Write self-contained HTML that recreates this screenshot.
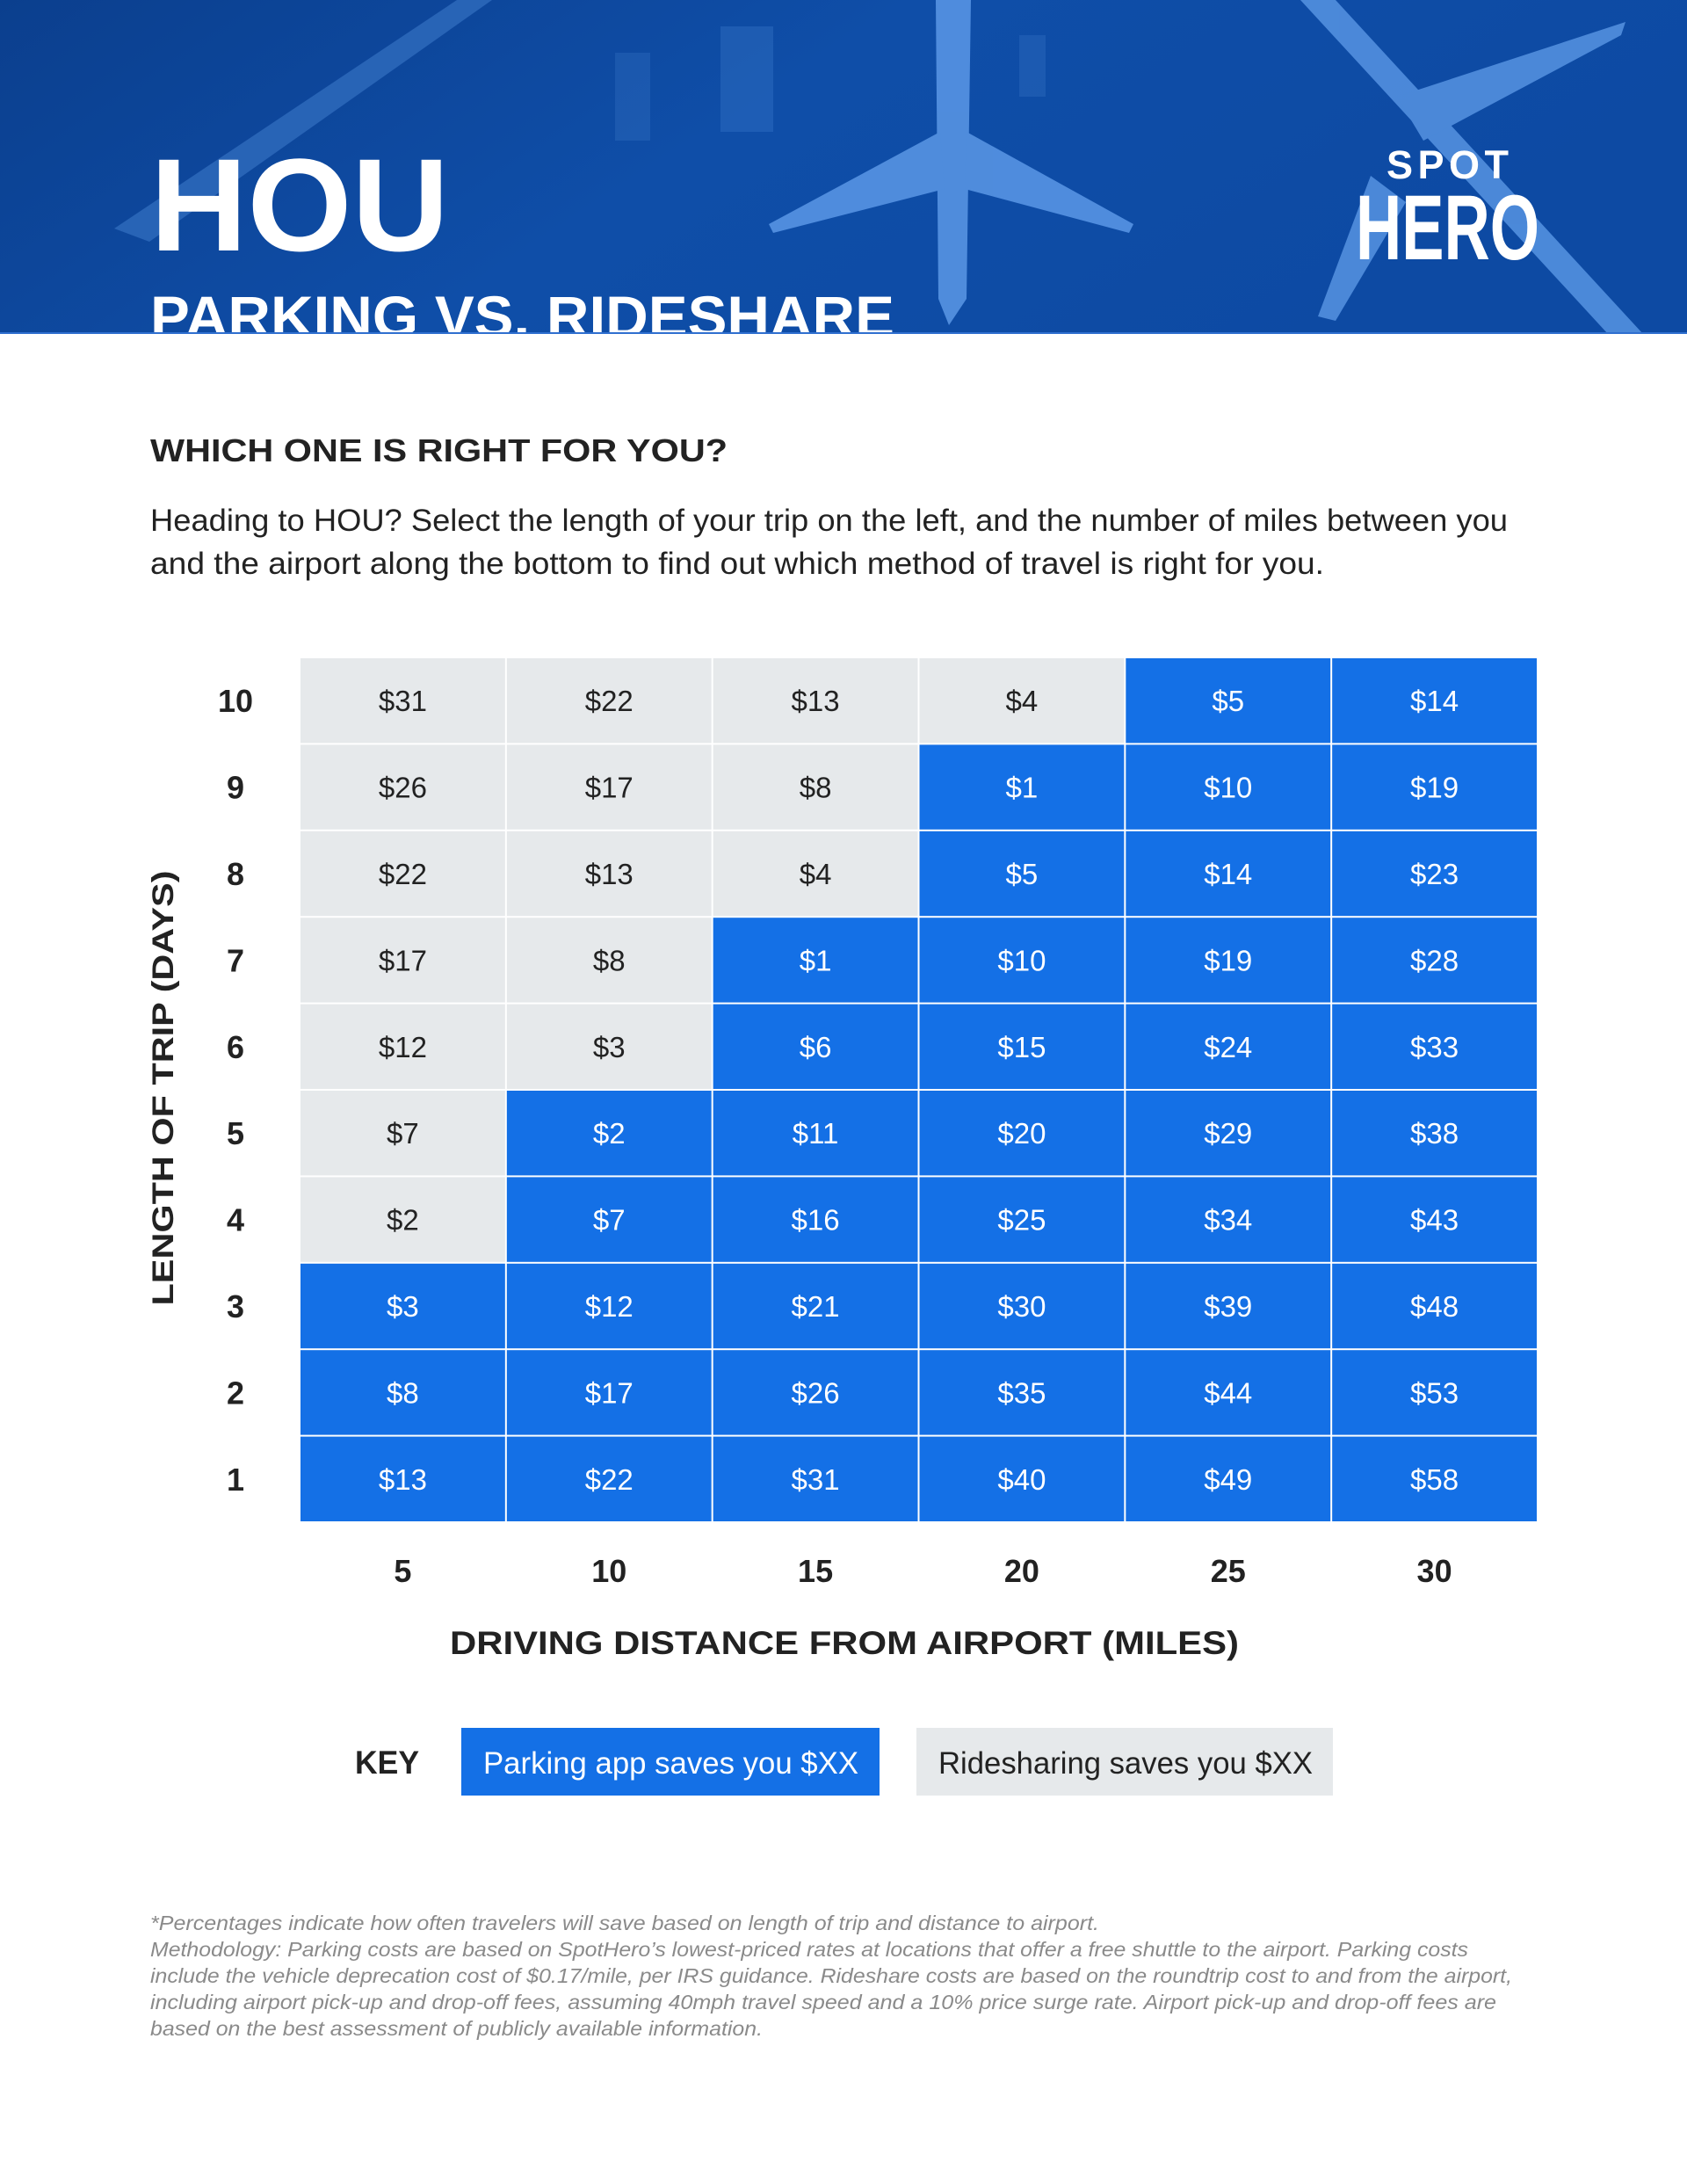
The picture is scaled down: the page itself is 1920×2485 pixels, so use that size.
<!DOCTYPE html>
<html><head><meta charset="utf-8"><title>HOU Parking vs Rideshare</title>
<style>
html,body{margin:0;padding:0;background:#fff;}
svg{display:block;font-family:"Liberation Sans",sans-serif;}
</style></head>
<body>
<svg id="page" width="1920" height="2485" viewBox="0 0 1920 2485" xmlns="http://www.w3.org/2000/svg">
<defs>
<linearGradient id="hdr" x1="0" y1="0" x2="1" y2="0.3">
<stop offset="0" stop-color="#0b3f8e"/><stop offset="0.5" stop-color="#0f4ea8"/><stop offset="1" stop-color="#0d4aa3"/>
</linearGradient>
</defs>
<g>
<rect x="0" y="0" width="1920" height="380" fill="url(#hdr)"/>
<g opacity="0.35" fill="#5c9ae8">
<polygon points="130,260 520,0 560,0 170,275"/>
<rect x="820" y="30" width="60" height="120" opacity="0.6"/>
<rect x="700" y="60" width="40" height="100" opacity="0.5"/>
<rect x="1160" y="40" width="30" height="70" opacity="0.5"/>
</g>
<g fill="#5b98e6" opacity="0.85">
<path d="M1065,0 L1105,0 L1100,340 L1080,370 L1068,340 Z"/>
<path d="M1070,150 L875,255 L880,265 L1075,215 Z"/>
<path d="M1100,150 L1290,255 L1285,265 L1098,215 Z"/>
</g>
<g fill="#5b98e6" opacity="0.8">
<path d="M1480,0 L1520,0 L1870,380 L1830,380 Z"/>
<path d="M1590,110 L1850,25 L1845,40 L1620,160 Z"/>
<path d="M1560,200 L1500,360 L1520,365 L1600,230 Z"/>
</g>
<text x="171" y="285" font-size="150" font-weight="bold" fill="#fff" textLength="340" lengthAdjust="spacingAndGlyphs">HOU</text>
<text x="171" y="383" font-size="66" font-weight="bold" fill="#fff" textLength="847" lengthAdjust="spacingAndGlyphs">PARKING VS. RIDESHARE</text>
<text x="1578" y="203" font-size="45" font-weight="bold" fill="#fff" textLength="139" lengthAdjust="spacing">SPOT</text>
<text x="1543" y="295" font-size="105" font-weight="bold" fill="#fff" textLength="209" lengthAdjust="spacingAndGlyphs">HERO</text>
</g>
<rect x="0" y="378" width="1920" height="2" fill="#2f6fcf"/>
<text x="171" y="525" font-size="36" font-weight="bold" fill="#222" textLength="657" lengthAdjust="spacingAndGlyphs">WHICH ONE IS RIGHT FOR YOU?</text>
<text x="171" y="604" font-size="35" fill="#222" textLength="1545" lengthAdjust="spacingAndGlyphs">Heading to HOU? Select the length of your trip on the left, and the number of miles between you</text>
<text x="171" y="653" font-size="35" fill="#222" textLength="1336" lengthAdjust="spacingAndGlyphs">and the airport along the bottom to find out which method of travel is right for you.</text>
<g id="chart"></g>
<text transform="translate(197,1238) rotate(-90)" text-anchor="middle" font-size="34" font-weight="bold" fill="#222" textLength="495" lengthAdjust="spacingAndGlyphs">LENGTH OF TRIP (DAYS)</text>
<text x="961" y="1882" text-anchor="middle" font-size="37" font-weight="bold" fill="#222" textLength="898" lengthAdjust="spacingAndGlyphs">DRIVING DISTANCE FROM AIRPORT (MILES)</text>
<g>
<text x="404" y="2018" font-size="37" font-weight="bold" fill="#222" textLength="73" lengthAdjust="spacingAndGlyphs">KEY</text>
<g>
<rect x="525" y="1966" width="476" height="77" fill="#1470e6"/>
<text x="550" y="2018" font-size="35" fill="#fff" textLength="427" lengthAdjust="spacingAndGlyphs">Parking app saves you $XX</text>
</g>
<g>
<rect x="1043" y="1966" width="474" height="77" fill="#e6e9eb"/>
<text x="1068" y="2018" font-size="35" fill="#222" textLength="426" lengthAdjust="spacingAndGlyphs">Ridesharing saves you $XX</text>
</g>
</g>
<g font-size="23" font-style="italic" fill="#8a8a8a">
<text x="171" y="2196" textLength="1080" lengthAdjust="spacingAndGlyphs">*Percentages indicate how often travelers will save based on length of trip and distance to airport.</text>
<text x="171" y="2226" textLength="1500" lengthAdjust="spacingAndGlyphs">Methodology: Parking costs are based on SpotHero’s lowest-priced rates at locations that offer a free shuttle to the airport. Parking costs</text>
<text x="171" y="2256" textLength="1550" lengthAdjust="spacingAndGlyphs">include the vehicle deprecation cost of $0.17/mile, per IRS guidance. Rideshare costs are based on the roundtrip cost to and from the airport,</text>
<text x="171" y="2286" textLength="1532" lengthAdjust="spacingAndGlyphs">including airport pick-up and drop-off fees, assuming 40mph travel speed and a 10% price surge rate. Airport pick-up and drop-off fees are</text>
<text x="171" y="2316" textLength="697" lengthAdjust="spacingAndGlyphs">based on the best assessment of publicly available information.</text>
</g>
</svg>
<script>
// Columns: driving distance (miles); rows: trip length (days)
const distances = [5, 10, 15, 20, 25, 30];
const tripDays = [10, 9, 8, 7, 6, 5, 4, 3, 2, 1];
// Signed savings: positive = parking app saves, negative = ridesharing saves
const savingsDay10 = [-31, -22, -13, -4, 5, 14];
const savingsDay9  = [-26, -17, -8, 1, 10, 19];
const savingsDay8  = [-22, -13, -4, 5, 14, 23];
const savingsDay7  = [-17, -8, 1, 10, 19, 28];
const savingsDay6  = [-12, -3, 6, 15, 24, 33];
const savingsDay5  = [-7, 2, 11, 20, 29, 38];
const savingsDay4  = [-2, 7, 16, 25, 34, 43];
const savingsDay3  = [3, 12, 21, 30, 39, 48];
const savingsDay2  = [8, 17, 26, 35, 44, 53];
const savingsDay1  = [13, 22, 31, 40, 49, 58];
const savingsRows = [savingsDay10, savingsDay9, savingsDay8, savingsDay7, savingsDay6, savingsDay5, savingsDay4, savingsDay3, savingsDay2, savingsDay1];

const NS = 'http://www.w3.org/2000/svg';
const gx0 = 341, gx1 = 1750, gy0 = 748, gy1 = 1732;
const cw = (gx1 - gx0) / distances.length;
const rh = (gy1 - gy0) / tripDays.length;
function xScale(i) { return gx0 + i * cw; }
function yScale(j) { return gy0 + j * rh; }
const chart = document.getElementById('chart');
function mk(tag, attrs, parent) {
  const e = document.createElementNS(NS, tag);
  for (const k in attrs) e.setAttribute(k, attrs[k]);
  parent.appendChild(e);
  return e;
}
savingsRows.forEach((row, j) => {
  row.forEach((v, i) => {
    const g = mk('g', {}, chart);
    
    
    mk('rect', {x: xScale(i) + 1, y: yScale(j) + 1, width: cw - 2, height: rh - 2, fill: v > 0 ? '#1470e6' : '#e6e9eb'}, g);
    const t = mk('text', {x: xScale(i) + cw / 2, y: yScale(j) + rh / 2 + 12, 'text-anchor': 'middle', 'font-size': 33, fill: v > 0 ? '#fff' : '#222'}, g);
    t.textContent = '$' + Math.abs(v);
  });
});
tripDays.forEach((d, j) => {
  const t = mk('text', {x: 268, y: yScale(j) + rh / 2 + 13, 'text-anchor': 'middle', 'font-size': 36, 'font-weight': 'bold', fill: '#222'}, chart);
  
  
  t.textContent = d;
});
distances.forEach((d, i) => {
  const t = mk('text', {x: xScale(i) + cw / 2, y: 1800, 'text-anchor': 'middle', 'font-size': 36, 'font-weight': 'bold', fill: '#222'}, chart);
  
  
  t.textContent = d;
});
</script>
</body></html>
